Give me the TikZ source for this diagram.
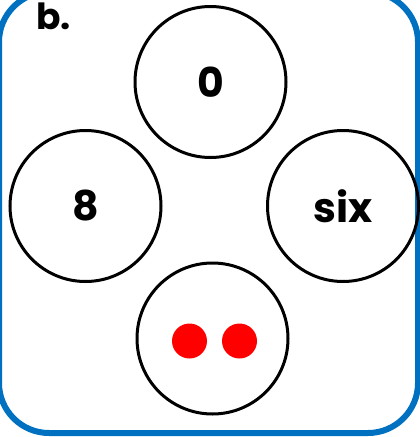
\documentclass[tikz,border=0pt]{standalone}
\usepackage{fontspec}
\setmainfont{Poppins}
\definecolor{frameblue}{RGB}{0,112,192}
\definecolor{dotred}{RGB}{255,0,0}
\newfontfamily\digitfont{Poppins}
\begin{document}
\begin{tikzpicture}[x=1pt,y=-1pt,
  ring/.style={circle, draw=black, line width=3pt, minimum size=151pt, inner sep=0pt, font=\fontsize{41}{41}\selectfont\bfseries},
  reddot/.style={circle, fill=dotred, minimum size=35pt, inner sep=0pt},
  framestyle/.style={draw=frameblue, line width=6pt, rounded corners=50pt}]
\useasboundingbox (0,0) rectangle (420,437);
\draw[framestyle] (-1,-8) rectangle (418,433);
\node[anchor=base west, font=\fontsize{36}{36}\selectfont\bfseries] (lbl) at (33,29) {b.};
\node[ring] (top) at (210.5,82) {0};
\node[ring] (left) at (85.5,206) {8};
\node[ring] (right) at (343,206) {six};
\node[ring] (bottom) at (212.5,338.5) {};
\node[reddot] (d1) at (189.5,341) {};
\node[reddot] (d2) at (239.5,341) {};
\end{tikzpicture}
\end{document}
